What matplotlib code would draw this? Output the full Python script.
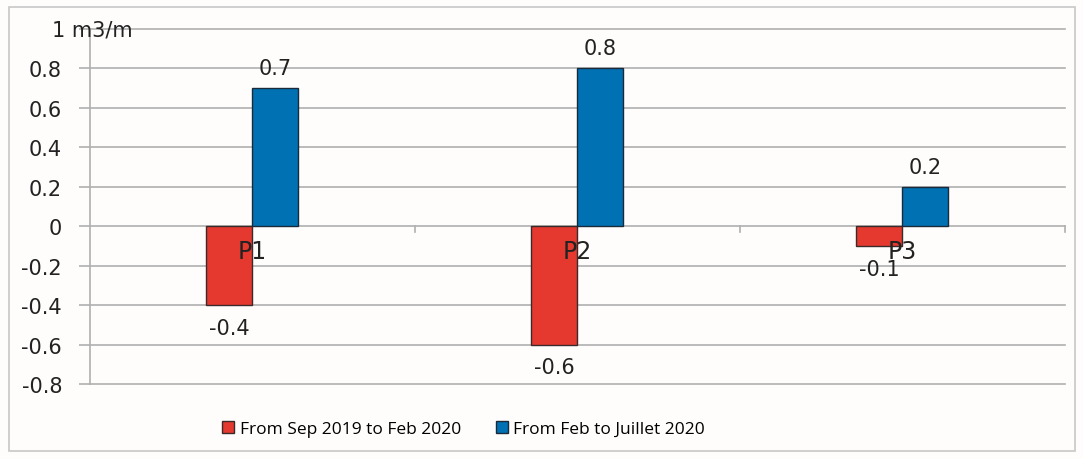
import numpy as np
import matplotlib.pyplot as plt
from matplotlib.patches import Rectangle

# measurement points and variation (m3/m)
points = ['P1', 'P2', 'P3']
sep_feb = [-0.4, -0.6, -0.1]
feb_jul = [0.7, 0.8, 0.2]
series_names = ['From Sep 2019 to Feb 2020', 'From Feb to Juillet 2020']
yticks = [-0.8, -0.6, -0.4, -0.2, 0, 0.2, 0.4, 0.6, 0.8, 1.0]
ytick_labels = ['-0.8', '-0.6', '-0.4', '-0.2', '0', '0.2', '0.4', '0.6', '0.8', '']
unit_label = '1 m3/m'

red = '#E5392F'
blue = '#0071B3'
grid = '#B0B0B0'
txt = '#222222'

fig = plt.figure(figsize=(10.83, 4.6), dpi=100)
fig.patch.set_facecolor('#FEFDFB')
fig.patches.append(Rectangle((0.008, 0.017), 0.985, 0.966, transform=fig.transFigure,
                             fill=False, edgecolor='#C8C8C8', linewidth=1.2))

ax = fig.add_axes([0.083, 0.163, 0.9, 0.772])
ax.set_facecolor('none')

x = np.arange(len(points))
w = 0.1415
b1 = ax.bar(x - w / 2, sep_feb, w, color=red, edgecolor='#3a2a2a', linewidth=1, label=series_names[0], zorder=3)
b2 = ax.bar(x + w / 2, feb_jul, w, color=blue, edgecolor='#1a2a3a', linewidth=1, label=series_names[1], zorder=3)

# value labels
for xi, v in zip(x, sep_feb):
    ax.text(xi - w / 2, v - 0.065, f'{v:g}', ha='center', va='top', fontsize=15, color=txt)
for xi, v in zip(x, feb_jul):
    ax.text(xi + w / 2, v + 0.05, f'{v:g}', ha='center', va='bottom', fontsize=15, color=txt)

# category names sit right under the zero line
for xi, name in zip(x, points):
    ax.text(xi, -0.065, name, ha='center', va='top', fontsize=17, color=txt, zorder=4)

ax.set_xlim(-0.5, 2.5)
ax.set_ylim(-0.8, 1.0)
ax.set_yticks(yticks)
ax.set_yticklabels(ytick_labels, fontsize=15, color=txt)
ax.set_xticks([])
# top tick carries the unit
fig.text(52 / 1083, 1 - 31 / 460, unit_label, ha='left', va='center', fontsize=15, color=txt)

for y in yticks:
    ax.axhline(y, color=grid, linewidth=1.2, zorder=1, clip_on=False)
# tick marks below the zero line between categories
for xb in [0.5, 1.5, 2.5]:
    ax.plot([xb, xb], [0, -0.03], color=grid, linewidth=1.2, clip_on=False, zorder=1)

for side in ['top', 'right', 'bottom']:
    ax.spines[side].set_visible(False)
ax.spines['left'].set_color(grid)
ax.spines['left'].set_linewidth(1.2)
ax.tick_params(axis='y', length=8, color=grid, width=1.2, pad=12)

fig.legend(handles=[b1, b2], loc='center', bbox_to_anchor=(0.428, 0.065), ncol=2, frameon=False,
           prop={'family': 'Open Sans', 'size': 12.5}, handlelength=0.7, handleheight=0.7,
           handletextpad=0.3, columnspacing=2.0)

fig.savefig('out.png', dpi=100, facecolor=fig.get_facecolor())
